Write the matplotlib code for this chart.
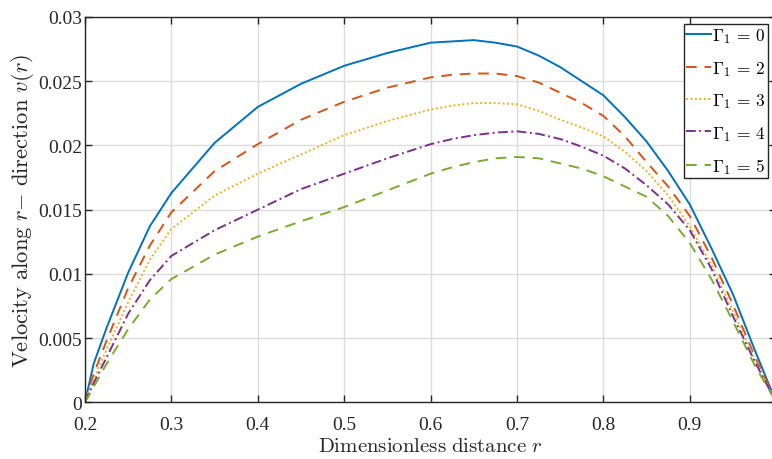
import matplotlib
matplotlib.use("Agg")
import matplotlib.pyplot as plt

plt.rcParams['font.family'] = ['Liberation Serif', 'DejaVu Serif']
plt.rcParams['mathtext.fontset'] = 'cm'

# ---- data ----
r = [0.2, 0.21, 0.225, 0.25, 0.275, 0.3, 0.35, 0.4, 0.45, 0.5, 0.55, 0.6,
     0.625, 0.65, 0.675, 0.7, 0.725, 0.75, 0.775, 0.8, 0.825, 0.85, 0.875,
     0.9, 0.925, 0.95, 0.975, 1.0]
v_g0 = [0, 0.0030, 0.0058, 0.0101, 0.0137, 0.0163, 0.0202, 0.0230, 0.0248, 0.0262,
        0.0272, 0.0280, 0.0281, 0.0282, 0.0280, 0.0277, 0.0270, 0.0261, 0.0250,
        0.0239, 0.0222, 0.0203, 0.0180, 0.0154, 0.0120, 0.0084, 0.0041, 0]
v_g2 = [0, 0.0022, 0.0048, 0.0089, 0.0122, 0.0148, 0.0180, 0.0201, 0.0220, 0.0234,
        0.0245, 0.0253, 0.0255, 0.0256, 0.0256, 0.0254, 0.0249, 0.0241, 0.0233,
        0.0223, 0.0207, 0.0187, 0.0168, 0.0145, 0.0113, 0.0076, 0.0036, 0]
v_g3 = [0, 0.0018, 0.0041, 0.0078, 0.0111, 0.0135, 0.0161, 0.0178, 0.0193, 0.0208,
        0.0219, 0.0228, 0.0231, 0.0233, 0.0233, 0.0232, 0.0227, 0.0220, 0.0214,
        0.0207, 0.0195, 0.0180, 0.0161, 0.0137, 0.0107, 0.0071, 0.0034, 0]
v_g4 = [0, 0.0015, 0.0035, 0.0069, 0.0095, 0.0114, 0.0134, 0.0150, 0.0166, 0.0178,
        0.0190, 0.0201, 0.0205, 0.0208, 0.0210, 0.0211, 0.0209, 0.0205, 0.0199,
        0.0192, 0.0182, 0.0169, 0.0154, 0.0134, 0.0104, 0.0067, 0.0032, 0]
v_g5 = [0, 0.0012, 0.0030, 0.0057, 0.0080, 0.0096, 0.0115, 0.0129, 0.0141, 0.0152,
        0.0165, 0.0178, 0.0183, 0.0187, 0.0190, 0.0191, 0.0190, 0.0186, 0.0182,
        0.0176, 0.0168, 0.0160, 0.0145, 0.0124, 0.0096, 0.0063, 0.0029, 0]
series = [v_g0, v_g2, v_g3, v_g4, v_g5]
labels = [r'$\Gamma_1\,{=}\,0$', r'$\Gamma_1\,{=}\,2$', r'$\Gamma_1\,{=}\,3$',
          r'$\Gamma_1\,{=}\,4$', r'$\Gamma_1\,{=}\,5$']
x_ticks = [0.2, 0.3, 0.4, 0.5, 0.6, 0.7, 0.8, 0.9]
x_ticklabels = ['0.2', '0.3', '0.4', '0.5', '0.6', '0.7', '0.8', '0.9']
y_ticks = [0, 0.005, 0.01, 0.015, 0.02, 0.025, 0.03]
y_ticklabels = ['0', '0.005', '0.01', '0.015', '0.02', '0.025', '0.03']
x_label = r'$\mathrm{Dimensionless\ distance\ }r$'
y_label = r'$\mathrm{Velocity\ along\ }r{-}\mathrm{\ direction\ }v(r)$'

colors = ['#0072BD', '#D95319', '#EDB120', '#7E2F8E', '#77AC30']
styles = ['-', (0, (5.5, 4)), (0, (1, 1.3)), (0, (5, 1.8, 1, 1.8)), (0, (5.5, 4))]

fig = plt.figure(figsize=(7.72, 4.6), dpi=100)
ax = fig.add_axes([85 / 772, 56.7 / 460, 691.2 / 772, 385.3 / 460])

for v, c, ls, lab in zip(series, colors, styles, labels):
    ax.plot(r, v, color=c, linestyle=ls, linewidth=1.4, label=lab)

ax.set_xlim(0.2, 1.0)
ax.set_ylim(0, 0.03)
ax.set_xticks(x_ticks)
ax.set_xticklabels(x_ticklabels)
ax.set_yticks(y_ticks)
ax.set_yticklabels(y_ticklabels)
ax.grid(True, color='#dcdcdc', linewidth=1.0)
ax.set_axisbelow(True)
ax.tick_params(direction='in', length=5, width=1.0, colors='#262626',
               labelsize=14, top=True, right=True)
ax.tick_params(axis='x', pad=10)
ax.tick_params(axis='y', pad=2)
for s in ax.spines.values():
    s.set_color('#262626')
    s.set_linewidth(1.0)

ax.set_xlabel(x_label, fontsize=15, color='#262626', va='center')
ax.xaxis.set_label_coords((430 - 85) / 691.2, (403.3 - 448) / 385.3)
ax.set_ylabel(y_label, fontsize=16.3, color='#262626', va='center')
ax.yaxis.set_label_coords((23 - 85) / 691.2, 0.5)

leg = ax.legend(loc='upper right', bbox_to_anchor=((768 - 85) / 691.2, (403.3 - 25) / 385.3),
                fontsize=12.5, frameon=True, fancybox=False, framealpha=1,
                edgecolor='#262626', handlelength=1.45, handletextpad=0.05,
                borderpad=0.12, labelspacing=0.78, borderaxespad=0)
leg.get_frame().set_linewidth(1.0)

fig.savefig('out.png', dpi=100)
